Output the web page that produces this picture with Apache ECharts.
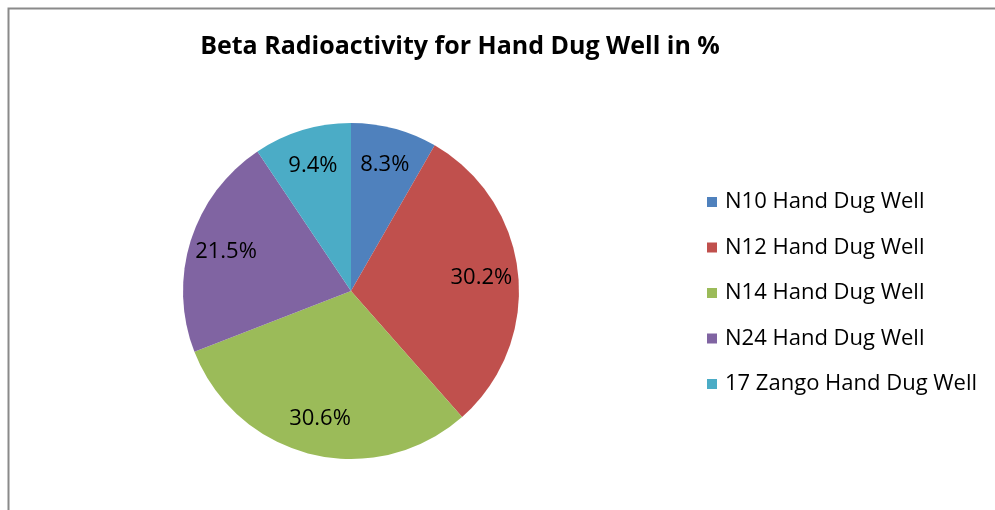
<!DOCTYPE html>
<html><head><meta charset="utf-8">
<script src="https://cdn.jsdelivr.net/npm/echarts@6/dist/echarts.min.js"></script>
<style>html,body{margin:0;padding:0;background:#fff}#c{width:995px;height:510px}</style>
</head><body><div id="c"></div>
<script>
const titleText = 'Beta Radioactivity for Hand Dug Well in %';
const categories = ['N10 Hand Dug Well','N12 Hand Dug Well','N14 Hand Dug Well','N24 Hand Dug Well','17 Zango Hand Dug Well'];
const values = [8.3, 30.2, 30.6, 21.5, 9.4];
const colors = ['#4F81BD','#C0504D','#9BBB59','#8064A2','#4BACC6'];

const data = categories.map((n,i)=>({name:n, value:values[i], itemStyle:{color:colors[i]}}));
const font = "'Open Sans', 'Noto Sans', sans-serif";
const chart = echarts.init(document.getElementById('c'), null, {renderer:'canvas'});
chart.setOption({
  animation:false,
  backgroundColor:'#fff',
  graphic:[{type:'rect', shape:{x:8.5,y:8.5,width:1100,height:600}, style:{fill:'none', stroke:'#8a8a8a', lineWidth:2}, silent:true}],
  title:{text:titleText, left:455, top:29, textAlign:'center',
    textStyle:{fontFamily:font, fontWeight:'bold', fontSize:25, color:'#000'}},
  legend:{orient:'vertical', left:702, top:186, itemWidth:10, itemHeight:10, itemGap:23.5,
    icon:'rect', data:categories,
    textStyle:{fontFamily:font, fontSize:22, lineHeight:22, color:'#000', padding:[0,0,0,3]}},
  series:[
    {type:'pie', center:[351,291], radius:[0,168], startAngle:90, clockwise:true,
     data:data, label:{show:false}, labelLine:{show:false}, silent:true,
     itemStyle:{borderWidth:0}},
    {type:'pie', center:[351,291], radius:[88,168], startAngle:90, clockwise:true,
     data:data.map(d=>({name:d.name, value:d.value, itemStyle:{color:'rgba(0,0,0,0)'}})),
     legendHoverLink:false, silent:true,
     label:{show:true, position:'inside', formatter:p=>p.value.toFixed(1)+'%',
       fontFamily:font, fontSize:22, color:'#000'},
     labelLine:{show:false}, itemStyle:{borderWidth:0}}
  ]
});
</script></body></html>
